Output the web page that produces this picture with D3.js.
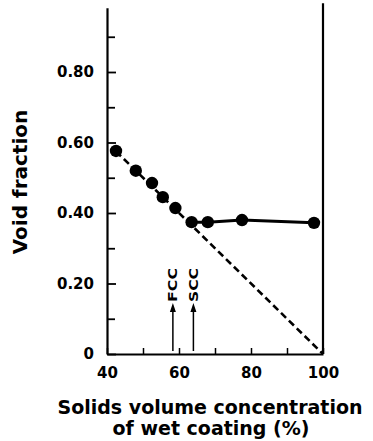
<!DOCTYPE html>
<html>
<head>
<meta charset="utf-8">
<script src="https://cdn.jsdelivr.net/npm/d3@7"></script>
<style>
  html, body { margin: 0; padding: 0; background: #fff; }
  svg text { font-family: "DejaVu Sans", sans-serif; font-weight: bold; fill: #000; }
</style>
</head>
<body>
<div id="chart"></div>
<script>
'use strict';

// Void fraction vs solids volume concentration of wet coating
const svc       = [42.5, 48, 52.5, 55.5, 59, 63.5, 68, 77.5, 97.5];
const voidFrac  = [0.576, 0.52, 0.485, 0.445, 0.414, 0.374, 0.374, 0.38, 0.372];

// plateau points joined by solid line (indices into the arrays above)
const plateauIdx = [5, 6, 7, 8];

// dashed theoretical line
const idealX = [42.5, 100];
const idealY = [0.575, 0];

// arrows
const arrowLabels = ['FCC', 'SCC'];
const arrowX      = [58.3, 64];

const yMajorTicks = [0, 0.2, 0.4, 0.6, 0.8];
const yMinorTicks = [0.1, 0.3, 0.5, 0.7, 0.9];
const xTicks      = [40, 50, 60, 70, 80, 90, 100];
const xLabels     = [40, 60, 80, 100];

function drawChart(elementID, width, height) {
  const svg = d3.select('#' + elementID)
    .append('svg')
    .attr('width', width)
    .attr('height', height);

  const x = d3.scaleLinear().domain([40, 100]).range([107, 323]);
  const y = d3.scaleLinear().domain([0, 1]).range([354, 1.5]);

  // left axis (inward ticks)
  const yAxisScale = y.copy().domain([0, 0.982]).range([y(0), y(0.982)]);
  const yAxis = svg.append('g')
    .attr('transform', `translate(${x(40)},0)`)
    .call(d3.axisLeft(yAxisScale)
      .tickValues(yMajorTicks)
      .tickSizeInner(-9)
      .tickSizeOuter(0)
      .tickPadding(13)
      .tickFormat(d => d === 0 ? '0' : d3.format('.2f')(d)));
  yAxis.select('.domain').attr('stroke-width', 2.2);
  yAxis.selectAll('.tick line').attr('stroke-width', 1.8);
  yAxis.selectAll('.tick text').style('font-size', '15px');

  const yMinor = svg.append('g')
    .attr('transform', `translate(${x(40)},0)`)
    .call(d3.axisLeft(yAxisScale)
      .tickValues(yMinorTicks)
      .tickSizeInner(-8)
      .tickSizeOuter(0)
      .tickFormat(''));
  yMinor.select('.domain').remove();
  yMinor.selectAll('.tick line').attr('stroke-width', 1.8);

  // bottom axis
  const xAxis = svg.append('g')
    .attr('transform', `translate(0,${y(0)})`)
    .call(d3.axisBottom(x)
      .tickValues(xTicks)
      .tickSizeInner(-6)
      .tickSizeOuter(0)
      .tickPadding(13)
      .tickFormat(d => xLabels.includes(d) ? d : ''));
  xAxis.select('.domain').attr('stroke-width', 2.2);
  xAxis.selectAll('.tick line').attr('stroke-width', 1.5);
  xAxis.selectAll('.tick text').style('font-size', '15px');

  // right frame line
  svg.append('line')
    .attr('x1', x(100)).attr('x2', x(100))
    .attr('y1', y(0.995)).attr('y2', y(0))
    .attr('stroke', '#000')
    .attr('stroke-width', 2.2);

  // dashed ideal line
  svg.append('line')
    .attr('x1', x(idealX[0])).attr('y1', y(idealY[0]))
    .attr('x2', x(idealX[1])).attr('y2', y(idealY[1]))
    .attr('stroke', '#000')
    .attr('stroke-width', 2.6)
    .attr('stroke-dasharray', '7,4');

  // solid plateau line
  const line = d3.line().x(i => x(svc[i])).y(i => y(voidFrac[i]));
  svg.append('path')
    .attr('d', line(plateauIdx))
    .attr('fill', 'none')
    .attr('stroke', '#000')
    .attr('stroke-width', 3);

  // points
  svg.selectAll('.pt')
    .data(svc)
    .enter()
    .append('circle')
    .attr('class', 'pt')
    .attr('cx', d => x(d))
    .attr('cy', (d, i) => y(voidFrac[i]))
    .attr('r', 6.2)
    .attr('fill', '#000');

  // arrows with labels
  const arrows = svg.selectAll('.arrow')
    .data(arrowX)
    .enter()
    .append('g')
    .attr('class', 'arrow')
    .attr('transform', d => `translate(${x(d)},0)`);

  arrows.append('line')
    .attr('x1', 0).attr('x2', 0)
    .attr('y1', 351).attr('y2', 310)
    .attr('stroke', '#000')
    .attr('stroke-width', 1.5);

  arrows.append('path')
    .attr('d', 'M0,303 L-3,312 L3,312 Z')
    .attr('fill', '#000');

  arrows.append('text')
    .attr('transform', 'translate(4.5,302) rotate(-90)')
    .attr('text-anchor', 'start')
    .attr('textLength', 34)
    .attr('lengthAdjust', 'spacingAndGlyphs')
    .style('font-size', '12px')
    .text((d, i) => arrowLabels[i]);

  // axis titles
  svg.append('text')
    .attr('transform', 'translate(27,182) rotate(-90)')
    .attr('text-anchor', 'middle')
    .style('font-size', '20px')
    .text('Void fraction');

  svg.append('text')
    .attr('x', 210).attr('y', 414)
    .attr('text-anchor', 'middle')
    .style('font-size', '19px')
    .text('Solids volume concentration');

  svg.append('text')
    .attr('x', 211).attr('y', 435)
    .attr('text-anchor', 'middle')
    .style('font-size', '19px')
    .text('of wet coating (%)');
}

drawChart('chart', 373, 441);
</script>
</body>
</html>
